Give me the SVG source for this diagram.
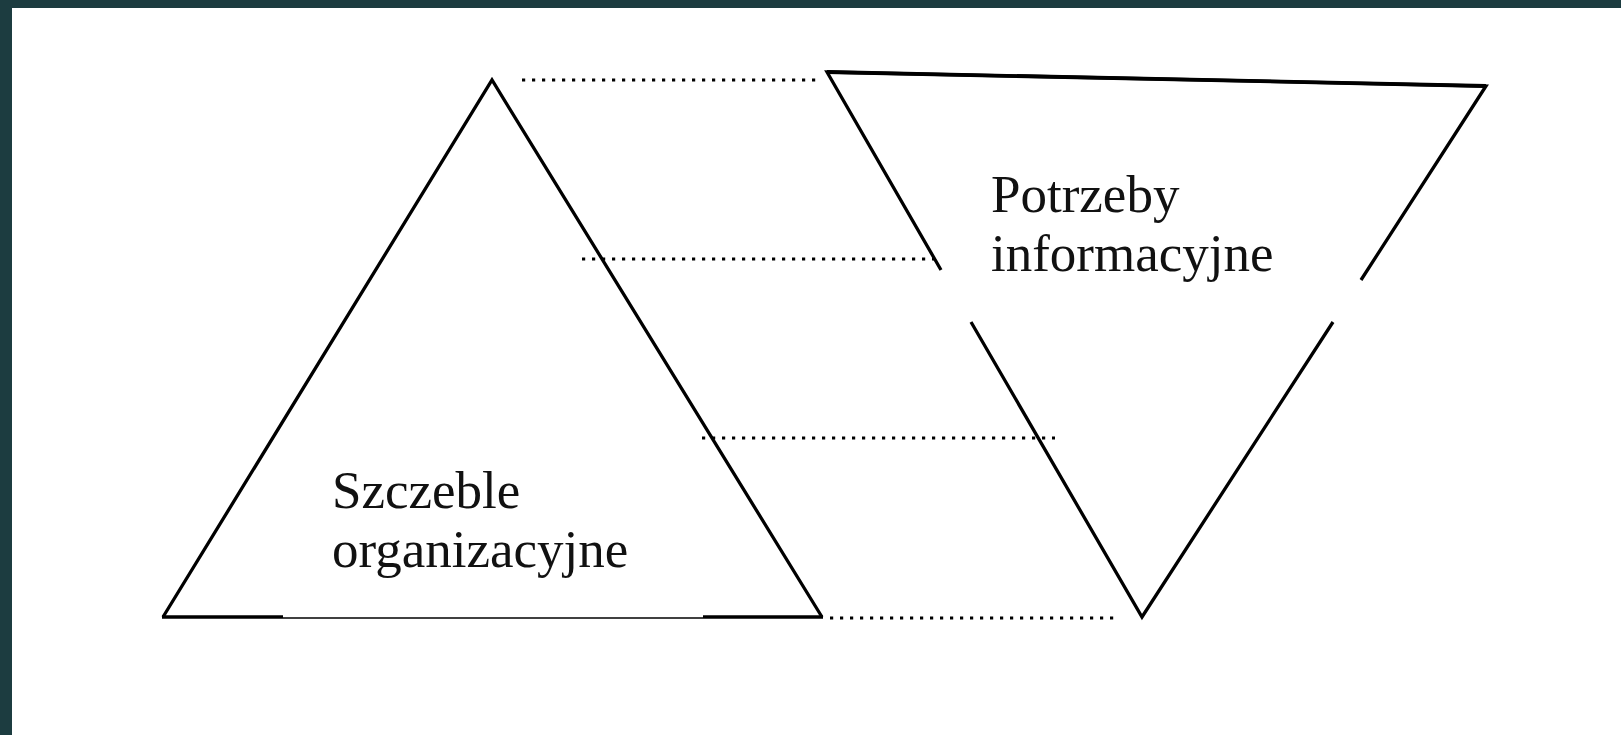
<svg xmlns="http://www.w3.org/2000/svg" width="1621" height="735" viewBox="0 0 1621 735">
<style>
.edge{fill:none;stroke:#000;stroke-width:3.3;stroke-linejoin:miter;stroke-linecap:butt}
.thin{fill:none;stroke:#000;stroke-width:1.6}
.dot{fill:none;stroke:#000;stroke-width:3.2;stroke-dasharray:3.2 6.8}
.lbl{font-family:"Liberation Serif","Times New Roman",serif;font-size:53px;fill:#111}
</style>
<rect x="0" y="0" width="1621" height="735" fill="#1c3c40"/>
<rect x="12" y="8" width="1609" height="727" fill="#fff"/>
<g id="connectors">
<line class="dot" x1="522" y1="80" x2="818" y2="80"/>
<line class="dot" x1="582" y1="259" x2="935" y2="259"/>
<line class="dot" x1="702" y1="438" x2="1055" y2="438"/>
<line class="dot" x1="830" y1="618" x2="1115" y2="618"/>
</g>
<g id="szczeble">
<polyline class="edge" points="163,617 492,80 822,617"/>
<line class="edge" x1="162" y1="617" x2="283" y2="617" style="stroke-width:3.6"/>
<line class="edge" x1="703" y1="617" x2="823" y2="617" style="stroke-width:3.6"/>
<line class="thin" x1="283" y1="618" x2="703" y2="618"/>
<text class="lbl" x="332" y="508">Szczeble</text>
<text class="lbl" x="332" y="567">organizacyjne</text>
</g>
<g id="potrzeby">
<polyline class="edge" points="941,270 827,72 1486,86 1361,280"/>
<line class="edge" x1="827" y1="72" x2="1486" y2="86" style="stroke-width:3.8"/>
<polyline class="edge" points="971,322 1142,617 1333,322"/>
<text class="lbl" x="991" y="212">Potrzeby</text>
<text class="lbl" x="991" y="271">informacyjne</text>
</g>
</svg>
